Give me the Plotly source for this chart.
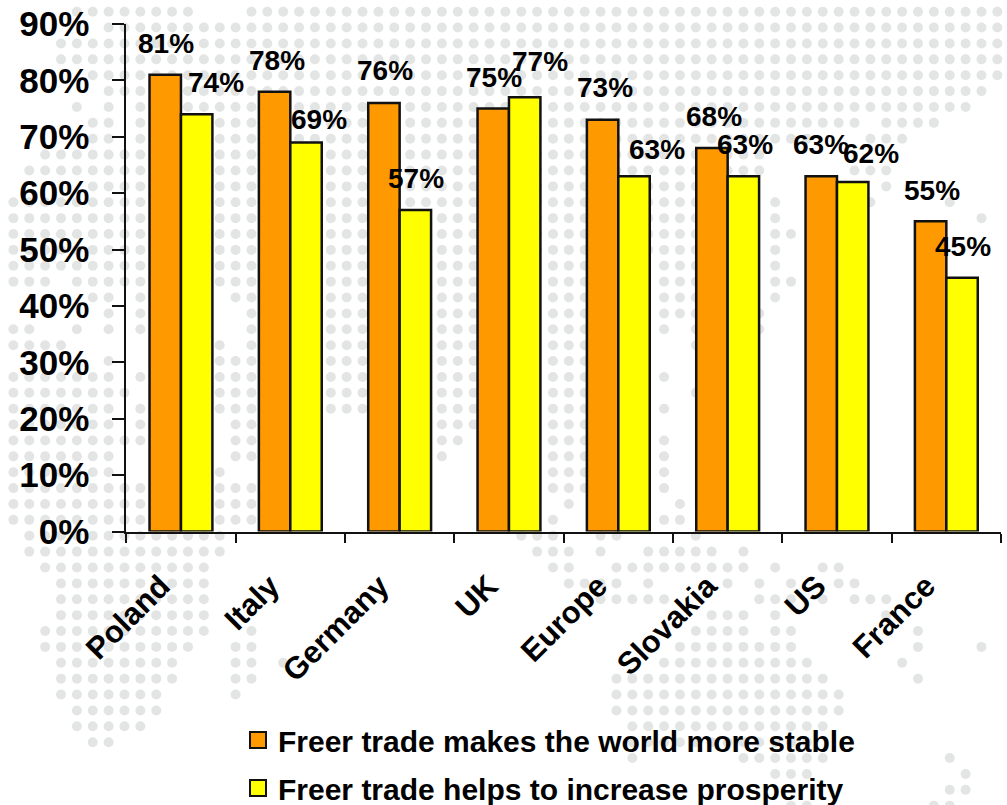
import plotly.graph_objects as go

categories = ["Poland", "Italy", "Germany", "UK", "Europe", "Slovakia", "US", "France"]
stable = [81, 78, 76, 75, 73, 68, 63, 55]
prosperity = [74, 69, 57, 77, 63, 63, 62, 45]
stable_name = "Freer trade makes the world more stable"
prosperity_name = "Freer trade helps to increase prosperity"
y_ticks = [0, 10, 20, 30, 40, 50, 60, 70, 80, 90]
y_tick_labels = ["0%", "10%", "20%", "30%", "40%", "50%", "60%", "70%", "80%", "90%"]

# label nudges relative to the bar centre (px)
stable_dx = [1, 2, 1, 1, 2, 2, 0, 1]
prosperity_dx = [19, 13, 1, 15, 23, 2, 18, 1]
stable_dy = [31, 31, 32, 31, 32, 32, 32, 31]
prosperity_dy = [32, 23, 32, 36, 27, 32, 28, 31]

# decorative dotted world map: row -> runs of grid columns
map_rows = {
    0: "4-11 15-62", 1: "6-62", 2: "3-62", 3: "3-62", 4: "5-62", 5: "6-61",
    6: "4 6 8-60", 7: "5 6 8-53 55-58", 8: "5 6 8-50 54-56", 9: "2-47",
    10: "1-47 53-55", 11: "5-43 55", 12: "0-43 48 54 59", 13: "0-43 48 61",
    14: "0-43 48 49", 15: "0-43 48", 16: "0-8 13-15 20-22 27-29 34-36 41-43 48",
    17: "0-2 4-8 13-15 20-22 27-29 34-36 41-43 48 49",
    18: "5 6 8 14 15 20-22 27-29 34-36 41-43 48",
    19: "6 8 15 20-22 27-29 34-36 41-43 47",
    20: "0 1 4 6 8 15 20-22 27-29 34-36 41 43 47",
    21: "0-3 13 15 20-22 27-29 34-36 43",
    22: "6 13-15 20-22 27-29 34-36",
    23: "0-6 8 13-15 20-22 27-29 34-36 41",
    24: "0-7 13-15 20-22 27-29 34-36 43",
    25: "0-6 8 13-15 20-22 27-29 34-36 41",
    26: "0-6 8 14 15 27-29 34-36",
    27: "0-8 14 15 27 28 34-36 41",
    28: "0-6 14 15 27 34-36 41",
    29: "0-6 13 34-36 41",
    30: "0-8 13-15 34-36 41",
    31: "0-8 13-15 35 42",
    32: "0-8 13-15 34 41 42",
    33: "1-13 32-34 37 38 43",
    34: "1-13 33-35 37 40-44 46",
    35: "2-12 34 35 38-46 48 51 52",
    36: "3-12 35-38 40 45 47 49 52 53",
    37: "3-12 37-41 47-49 51 53-55",
    38: "3-12 44-46 48 55",
    39: "2-12 15 43-46 48 49 57",
    40: "2-11 14 15 42-49 57 61",
    41: "3-10 14 15 17 41-50 56",
    42: "3-10 14 15 38-51 57",
    43: "3-9 14 38-52",
    44: "4-9 38-52",
    45: "4-8 39-51",
    46: "5 6 39-50",
    47: "39 46-51 59",
    48: "48-50 60",
    49: "59 60",
    50: "49 50 58 59",
}

def expand(spec):
    out = []
    for part in spec.split():
        if "-" in part:
            a, b = part.split("-")
            out.extend(range(int(a), int(b) + 1))
        else:
            out.append(int(part))
    return out

W, H = 1007, 805
PL, PR, PT, PB = 126.3, 1001, 24, 531.5
BLACK = "#111111"
FONT = "Liberation Sans, Arial, sans-serif"
map_x, map_y = [], []
for row, spec in map_rows.items():
    for col in expand(spec):
        map_x.append(13.4 + 15.87 * col)
        map_y.append(11.7 + 15.88 * row)

fig = go.Figure()
fig.add_trace(go.Scatter(x=map_x, y=map_y, mode="markers", xaxis="x", yaxis="y",
                         marker=dict(size=10, color="#e3e5e5"), hoverinfo="skip", showlegend=False))
fig.add_trace(go.Bar(x=categories, y=stable, xaxis="x2", yaxis="y2", name=stable_name,
                     marker=dict(color="#ff9900", line=dict(color=BLACK, width=2.5)), showlegend=False))
fig.add_trace(go.Bar(x=categories, y=prosperity, xaxis="x2", yaxis="y2", name=prosperity_name,
                     marker=dict(color="#ffff00", line=dict(color=BLACK, width=2.5)), showlegend=False))
for name, color in ((stable_name, "#ff9900"), (prosperity_name, "#ffff00")):
    fig.add_trace(go.Scatter(x=[None], y=[None], xaxis="x2", yaxis="y2", mode="markers", name=name,
                             legendgroup=name,
                             marker=dict(symbol="square", size=16, color=color, line=dict(color=BLACK, width=2))))

BAR_OFFSET = 15.75
annotations = []
for series, dxs, dys, sign in ((stable, stable_dx, stable_dy, -1), (prosperity, prosperity_dx, prosperity_dy, 1)):
    for cat, val, dx, dy in zip(categories, series, dxs, dys):
        annotations.append(dict(x=cat, y=val, xref="x2", yref="y2", text=f"{val}%", showarrow=False,
                                xanchor="center", yanchor="middle", xshift=sign * BAR_OFFSET + dx, yshift=dy,
                                font=dict(family=FONT, size=28, color="#000000", weight="bold")))

fig.update_layout(
    width=W, height=H, autosize=False,
    margin=dict(l=0, r=0, t=0, b=0, autoexpand=False),
    paper_bgcolor="#ffffff", plot_bgcolor="rgba(0,0,0,0)",
    barmode="group", bargap=0.425, bargroupgap=0,
    xaxis=dict(range=[0, W], domain=[0, 1], visible=False, fixedrange=True),
    yaxis=dict(range=[H, 0], domain=[0, 1], visible=False, fixedrange=True),
    xaxis2=dict(domain=[PL / W, PR / W], anchor="y2", type="category", categoryorder="array", categoryarray=categories,
                tickangle=-45, ticks="outside", ticklen=9, tickwidth=2, tickcolor=BLACK, tickson="boundaries",
                ticklabelshift=-20, ticklabelstandoff=22,
                showline=True, linecolor=BLACK, linewidth=2, showgrid=False, zeroline=False,
                tickfont=dict(family=FONT, size=31, color="#000000", weight="bold")),
    yaxis2=dict(domain=[(H - PB) / H, (H - PT) / H], anchor="x2", range=[0, 90],
                tickmode="array", tickvals=y_ticks, ticktext=y_tick_labels,
                ticks="outside", ticklen=12, tickwidth=2, tickcolor=BLACK, ticklabelstandoff=16,
                showline=True, linecolor=BLACK, linewidth=2, showgrid=False, zeroline=False,
                tickfont=dict(family=FONT, size=35, color="#000000", weight="bold")),
    legend=dict(x=238 / W, y=1 - 714 / H, xanchor="left", yanchor="top", orientation="v",
                bgcolor="rgba(0,0,0,0)", borderwidth=0, tracegroupgap=6, traceorder="grouped",
                font=dict(family=FONT, size=30, color="#000000", weight="bold")),
    annotations=annotations,
    showlegend=True,
)

fig.write_html("out.html", config=dict(displayModeBar=False),
               post_script="document.body.style.margin='0';document.documentElement.style.overflow='hidden';")
